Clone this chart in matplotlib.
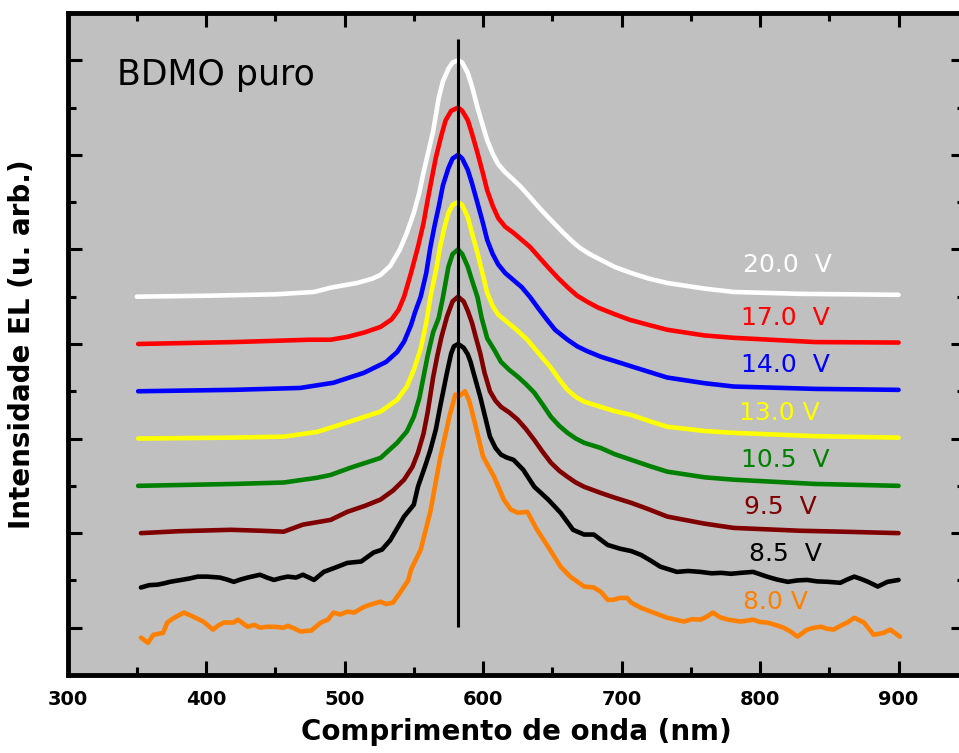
import matplotlib
matplotlib.use("Agg")
import matplotlib.pyplot as plt
from matplotlib.ticker import MultipleLocator, NullFormatter

# EL spectra of BDMO puro, normalised to a peak height of 5 and stacked
voltages = ["8.0 V", "8.5  V", "9.5  V", "10.5  V", "13.0 V", "14.0  V", "17.0  V", "20.0  V"]
colors = ["#ff8000", "black", "#800000", "#008000", "#ffff00", "#0000ff", "#ff0000", "white"]
offsets = [0, 1, 2, 3, 4, 5, 6, 7]

x_80 = [353, 358, 362, 369, 372, 377, 384, 391, 398, 405, 409, 413, 420, 423, 430, 435, 439, 444, 449,
        456, 459, 464, 468, 476, 483, 488, 492, 497, 502, 507, 514, 520, 526, 530, 535, 540, 546, 548,
        555, 562, 569, 576, 580, 583, 587, 590, 593, 600, 608, 615, 620, 625, 632, 639, 647, 656, 663,
        673, 680, 685, 690, 694, 699, 704, 707, 714, 723, 733, 745, 751, 757, 762, 766, 771, 777, 786,
        795, 800, 805, 811, 817, 822, 827, 834, 839, 844, 848, 853, 858, 863, 868, 875, 882, 889, 894, 901]
y_80 = [-0.21, -0.32, -0.15, -0.11, 0.11, 0.21, 0.32, 0.23, 0.13, -0.04, 0.05, 0.11, 0.11, 0.17, 0.02,
        0.06, 0.0, 0.02, 0.02, 0.0, 0.04, -0.02, -0.08, -0.06, 0.11, 0.17, 0.32, 0.28, 0.34, 0.32, 0.44,
        0.5, 0.55, 0.5, 0.53, 0.74, 1.0, 1.23, 1.65, 2.46, 3.58, 4.5, 4.93, 4.9, 5.0, 4.8, 4.46, 3.62,
        3.19, 2.71, 2.5, 2.43, 2.45, 2.07, 1.71, 1.29, 1.08, 0.87, 0.85, 0.76, 0.59, 0.59, 0.63, 0.63,
        0.53, 0.42, 0.32, 0.21, 0.13, 0.18, 0.17, 0.24, 0.32, 0.22, 0.17, 0.13, 0.17, 0.12, 0.11, 0.06,
        0.0, -0.08, -0.19, -0.04, 0.0, 0.02, -0.02, -0.04, 0.04, 0.11, 0.21, 0.11, -0.15, -0.11, -0.04, -0.19]

x_85 = [353, 359, 365, 370, 374, 382, 388, 394, 401, 410, 415, 420, 425, 430, 439, 444, 449, 454, 459,
        465, 470, 478, 485, 495, 502, 512, 521, 527, 533, 543, 550, 553, 558, 562, 566, 569, 574, 577,
        579, 582, 586, 589, 591, 594, 598, 602, 605, 609, 613, 617, 622, 629, 637, 647, 656, 665, 673,
        680, 685, 690, 699, 707, 714, 721, 728, 740, 748, 757, 765, 772, 779, 786, 795, 805, 812, 820,
        827, 834, 841, 849, 858, 863, 868, 873, 878, 885, 892, 900]
y_85 = [-0.15, -0.1, -0.09, -0.06, -0.03, 0.01, 0.04, 0.08, 0.08, 0.06, 0.02, -0.03, 0.02, 0.06, 0.12,
        0.06, 0.01, 0.05, 0.08, 0.06, 0.12, 0.01, 0.18, 0.29, 0.37, 0.4, 0.59, 0.65, 0.85, 1.35, 1.6,
        1.98, 2.4, 2.76, 3.2, 3.67, 4.4, 4.8, 4.95, 5.0, 4.92, 4.78, 4.62, 4.3, 3.88, 3.4, 3.04, 2.8,
        2.66, 2.6, 2.55, 2.34, 1.98, 1.71, 1.43, 1.07, 0.97, 0.97, 0.86, 0.75, 0.67, 0.62, 0.54, 0.42,
        0.29, 0.18, 0.2, 0.18, 0.15, 0.16, 0.14, 0.16, 0.18, 0.08, 0.02, -0.03, 0.0, 0.01, -0.02,
        -0.03, -0.05, 0.02, 0.08, 0.03, -0.03, -0.13, -0.03, 0.01]

x_95 = [353, 380, 418, 440, 456, 470, 490, 502, 515, 526, 535, 543, 549, 553, 557, 560, 564, 567, 570,
        574, 578, 582, 586, 589, 592, 595, 598, 601, 605, 609, 613, 619, 625, 631, 637, 643, 649, 655,
        661, 667, 673, 685, 695, 707, 720, 733, 760, 781, 829, 860, 900]
y_95 = [0.0, 0.04, 0.07, 0.05, 0.03, 0.18, 0.28, 0.45, 0.58, 0.71, 0.9, 1.13, 1.4, 1.7, 2.1, 2.55,
        3.3, 3.75, 4.15, 4.58, 4.9, 5.0, 4.9, 4.7, 4.45, 4.12, 3.8, 3.4, 3.0, 2.8, 2.67, 2.55, 2.4, 2.2,
        1.97, 1.72, 1.49, 1.32, 1.19, 1.07, 0.98, 0.85, 0.75, 0.64, 0.5, 0.35, 0.2, 0.11, 0.05, 0.03, 0.0]

x_105 = [351, 420, 456, 480, 490, 504, 526, 538, 545, 550, 554, 557, 560, 564, 568, 571, 575, 578, 582,
         585, 589, 592, 596, 599, 603, 608, 613, 619, 625, 631, 637, 643, 649, 655, 661, 667, 673, 685,
         695, 707, 720, 733, 760, 781, 840, 900]
y_105 = [0.0, 0.04, 0.07, 0.17, 0.23, 0.38, 0.59, 0.91, 1.15, 1.46, 1.85, 2.3, 2.75, 3.25, 3.55, 3.98,
         4.63, 4.9, 5.0, 4.9, 4.63, 4.35, 3.99, 3.55, 3.12, 2.88, 2.62, 2.45, 2.31, 2.15, 1.97, 1.72,
         1.46, 1.27, 1.12, 1.0, 0.91, 0.8, 0.67, 0.55, 0.42, 0.3, 0.18, 0.13, 0.04, 0.0]

x_130 = [351, 420, 456, 480, 490, 504, 526, 538, 545, 550, 555, 559, 562, 566, 569, 572, 575, 578, 582,
         585, 589, 592, 596, 600, 603, 607, 611, 618, 625, 632, 638, 644, 649, 655, 661, 667, 673, 685,
         695, 707, 720, 733, 760, 781, 840, 900]
y_130 = [0.0, 0.02, 0.04, 0.14, 0.23, 0.36, 0.57, 0.82, 1.1, 1.45, 1.9, 2.45, 2.99, 3.55, 4.05, 4.45,
         4.77, 4.94, 5.0, 4.94, 4.68, 4.35, 3.92, 3.45, 3.08, 2.8, 2.62, 2.45, 2.28, 2.09, 1.88, 1.67,
         1.5, 1.25, 1.03, 0.88, 0.78, 0.67, 0.58, 0.5, 0.37, 0.25, 0.16, 0.12, 0.05, 0.02]

x_140 = [351, 420, 468, 492, 514, 530, 538, 543, 548, 551, 555, 559, 562, 565, 568, 571, 575, 578, 582,
         585, 589, 592, 596, 600, 603, 607, 611, 616, 622, 628, 634, 640, 646, 652, 661, 668, 675, 685,
         697, 710, 733, 760, 781, 840, 900]
y_140 = [0.0, 0.03, 0.07, 0.18, 0.39, 0.62, 0.83, 1.05, 1.4, 1.68, 2.0, 2.5, 3.05, 3.5, 3.9, 4.35, 4.72,
         4.92, 5.0, 4.92, 4.68, 4.4, 3.98, 3.55, 3.2, 2.9, 2.68, 2.5, 2.35, 2.2, 1.99, 1.75, 1.52, 1.3,
         1.09, 0.95, 0.85, 0.73, 0.62, 0.5, 0.29, 0.17, 0.1, 0.05, 0.03]

x_170 = [351, 420, 475, 490, 502, 514, 526, 534, 539, 543, 548, 553, 557, 560, 563, 566, 570, 573, 577,
         582, 585, 589, 592, 596, 600, 603, 607, 611, 616, 622, 628, 634, 640, 647, 654, 661, 668, 676,
         683, 695, 706, 720, 733, 760, 781, 840, 900]
y_170 = [0.0, 0.04, 0.09, 0.09, 0.15, 0.24, 0.36, 0.52, 0.72, 1.0, 1.5, 2.05, 2.55, 3.04, 3.5, 3.95,
         4.42, 4.73, 4.93, 5.0, 4.93, 4.73, 4.45, 4.04, 3.6, 3.25, 2.92, 2.66, 2.48, 2.35, 2.2, 2.05,
         1.85, 1.62, 1.4, 1.2, 1.02, 0.88, 0.77, 0.63, 0.51, 0.4, 0.3, 0.18, 0.13, 0.04, 0.03]

x_200 = [350, 400, 450, 478, 490, 509, 520, 526, 533, 540, 545, 550, 554, 557, 560, 564, 568, 571, 575,
         578, 582, 585, 589, 592, 596, 600, 603, 607, 611, 616, 622, 628, 634, 640, 647, 653, 658, 664,
         670, 677, 685, 695, 707, 720, 733, 760, 781, 829, 900]
y_200 = [0.0, 0.02, 0.05, 0.1, 0.19, 0.29, 0.38, 0.46, 0.65, 1.0, 1.35, 1.77, 2.2, 2.62, 3.0, 3.5, 4.2,
         4.55, 4.82, 4.95, 5.0, 4.95, 4.73, 4.45, 4.0, 3.6, 3.31, 3.02, 2.8, 2.63, 2.47, 2.3, 2.1, 1.9,
         1.68, 1.5, 1.35, 1.18, 1.03, 0.9, 0.78, 0.63, 0.5, 0.38, 0.29, 0.17, 0.1, 0.06, 0.04]

spectra_x = [x_80, x_85, x_95, x_105, x_130, x_140, x_170, x_200]
spectra_y = [y_80, y_85, y_95, y_105, y_130, y_140, y_170, y_200]

peak_nm = 582
label_x = [811, 818, 815, 818, 814, 818, 818, 820]

fig = plt.figure(figsize=(9.59, 7.53), dpi=100)
ax = fig.add_axes([0.0704, 0.1036, 0.9359, 0.8792])
ax.set_facecolor("#c0c0c0")

for xs, ys, off, c in zip(spectra_x, spectra_y, offsets, colors):
    ax.plot(xs, [v + off for v in ys], color=c, lw=3.3, solid_capstyle="round",
            solid_joinstyle="round", zorder=3)

for lx, off, lab, c in zip(label_x, offsets, voltages, colors):
    dy = 0.67 if off == 7 else 0.55
    ax.text(lx, off + dy, lab, color=c, fontsize=18, ha="center", va="center", zorder=5)

ax.vlines(peak_nm, 0.02, 12.45, color="black", lw=2.2, zorder=4)
ax.text(407, 11.69, "BDMO puro", fontsize=25, ha="center", va="center")

ax.set_xlim(300, 948)
ax.set_ylim(-1, 13)
ax.xaxis.set_major_locator(MultipleLocator(100))
ax.xaxis.set_minor_locator(MultipleLocator(50))
ax.set_yticks(range(0, 13, 2))
ax.set_yticks(range(1, 13, 2), minor=True)
ax.yaxis.set_major_formatter(NullFormatter())

ax.tick_params(which="both", direction="in", top=True, right=True, width=2.2)
ax.tick_params(which="major", length=10, pad=11, labelsize=14)
ax.tick_params(which="minor", length=6)
for lab in ax.get_xticklabels():
    lab.set_fontweight("bold")
for s in ax.spines.values():
    s.set_linewidth(3.5)

ax.set_xlabel("Comprimento de onda (nm)", fontsize=20, fontweight="bold", labelpad=6)
ax.set_ylabel("Intensidade EL (u. arb.)", fontsize=20, fontweight="bold", labelpad=12)

fig.savefig("out.png", dpi=100)
